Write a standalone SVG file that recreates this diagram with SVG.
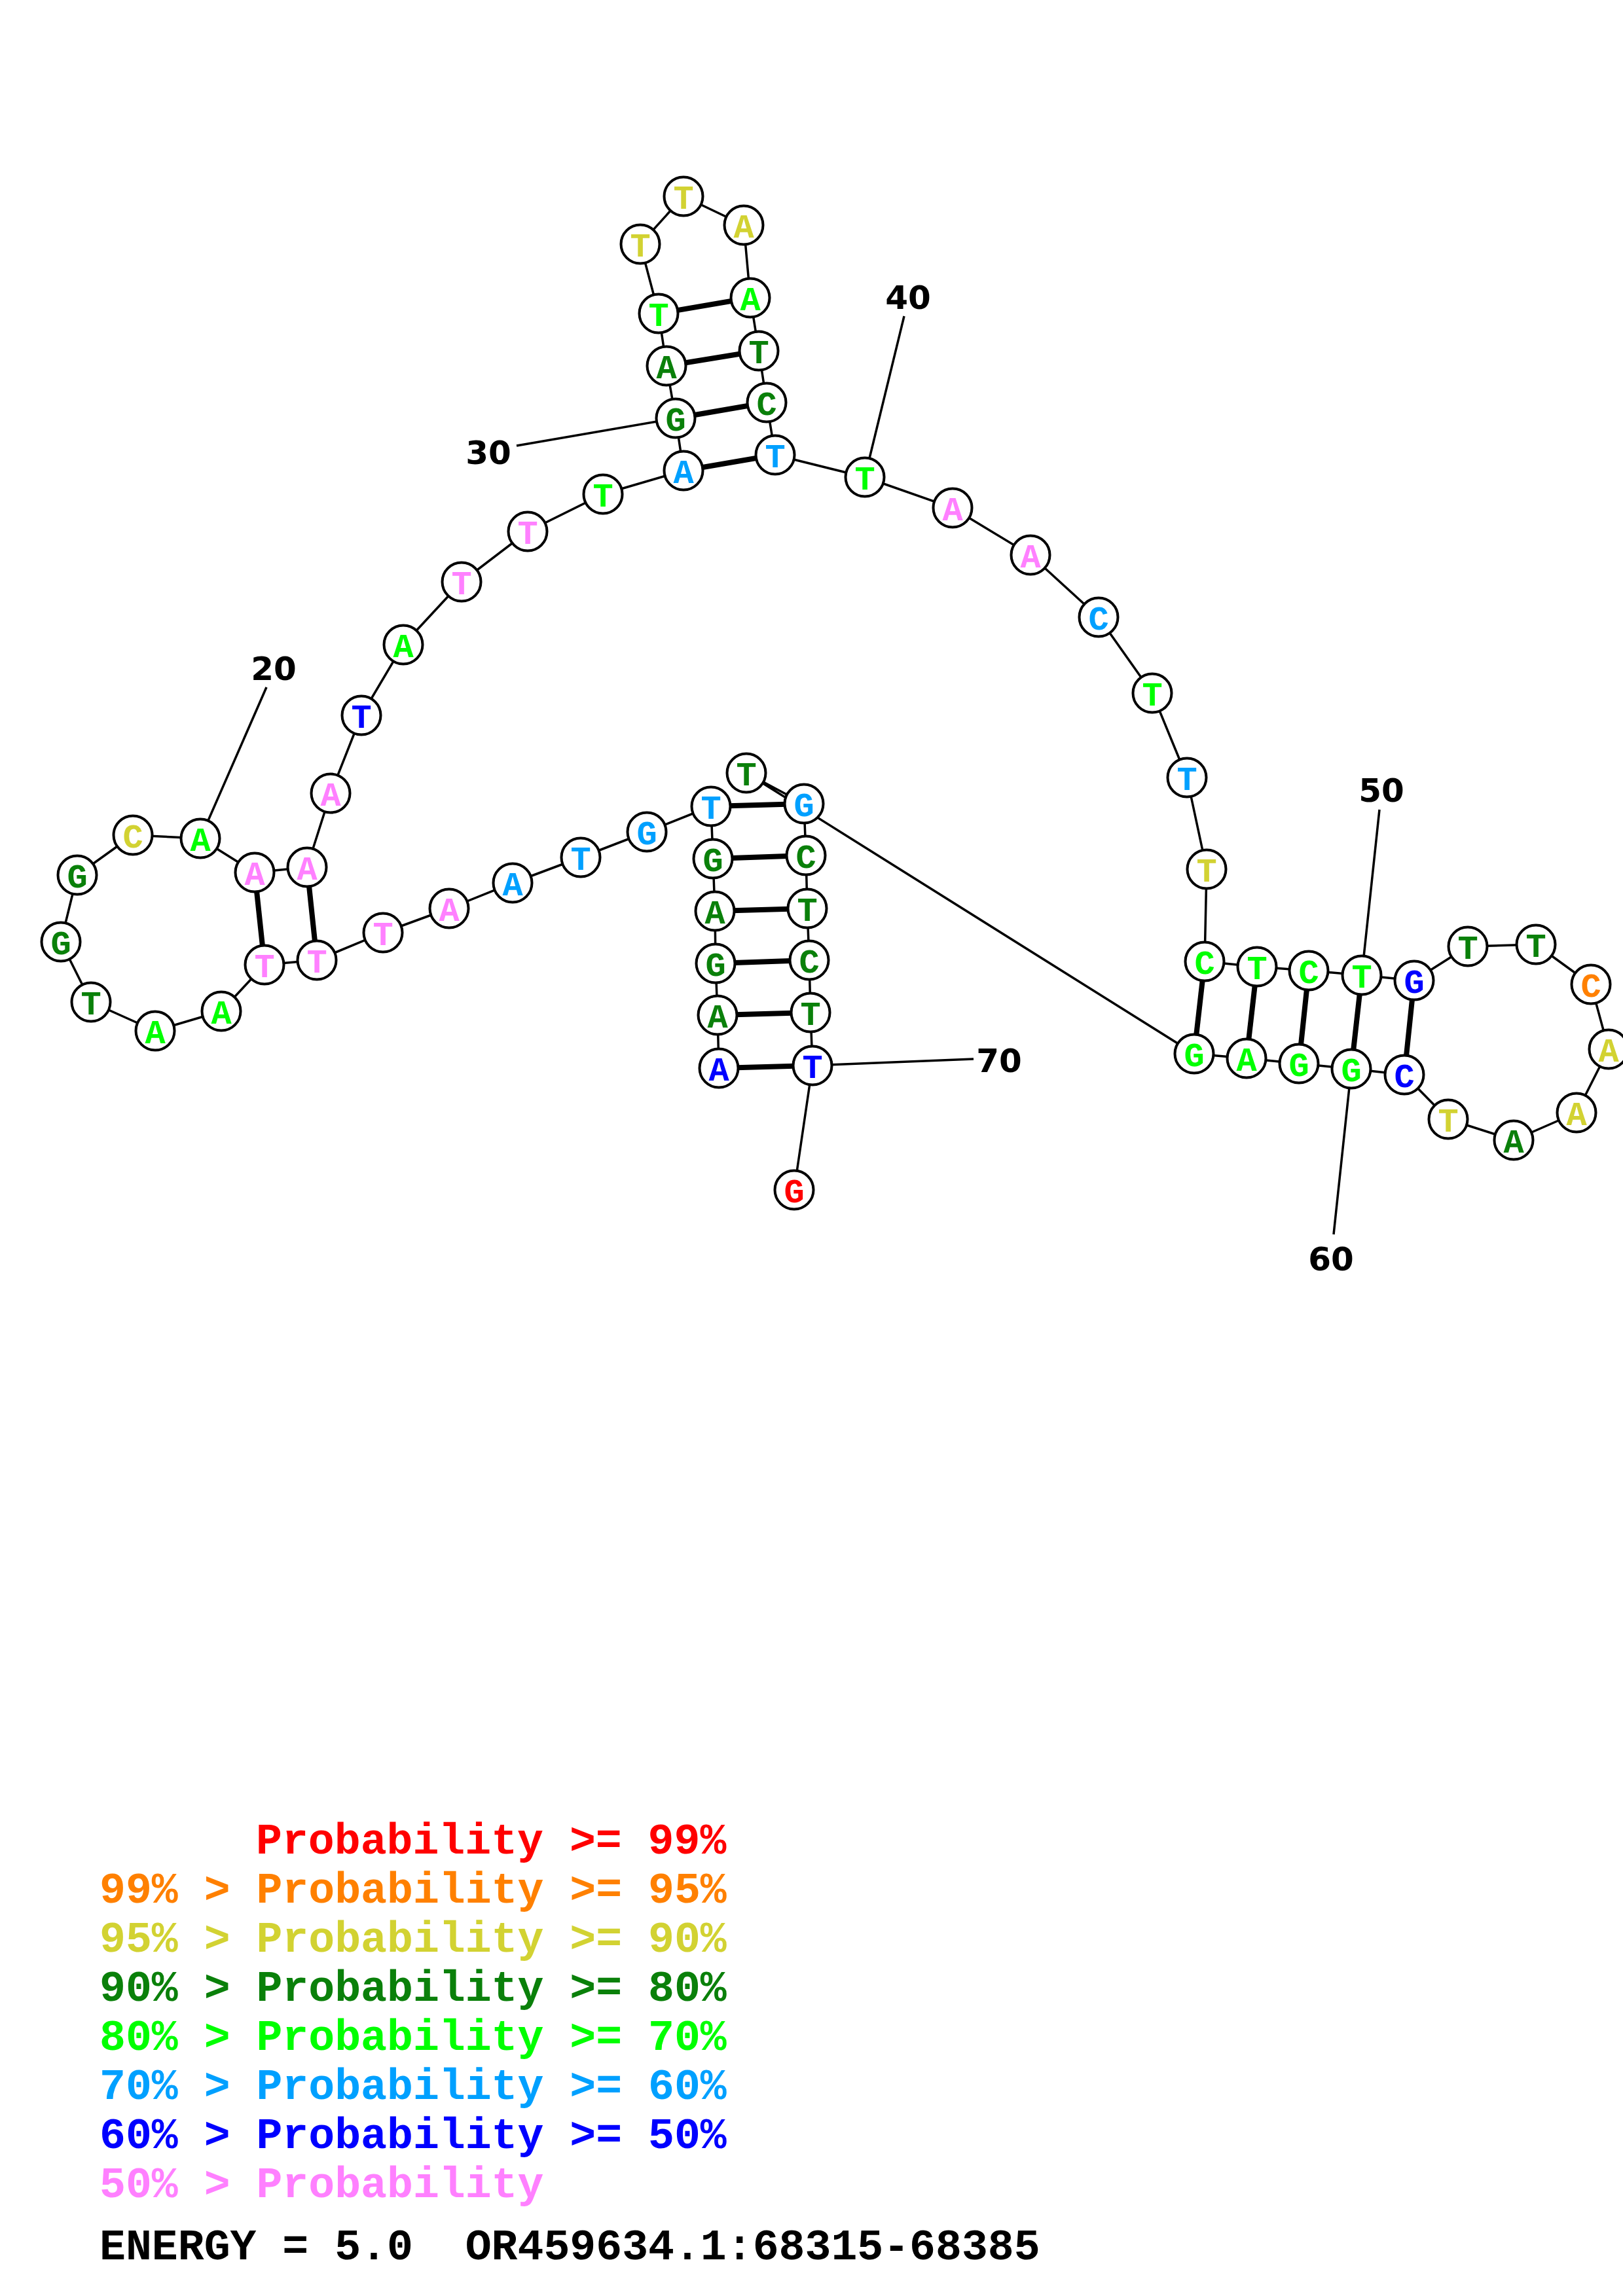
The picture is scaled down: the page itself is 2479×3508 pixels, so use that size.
<svg xmlns="http://www.w3.org/2000/svg" width="2479" height="3508" viewBox="0 0 2479 3508">
<style>
.bg{fill:#ffffff}
.bb{fill:none;stroke:#000;stroke-width:3.5;stroke-linejoin:round}
.pr{stroke:#000;stroke-width:8}
.ln{stroke:#000;stroke-width:3.5}
.nd circle{fill:#fff;stroke:#000;stroke-width:4}
.nd text{font-family:"Liberation Mono","DejaVu Sans Mono",monospace;font-weight:bold;font-size:52px;text-anchor:middle}
.num{font-family:"DejaVu Sans","Liberation Sans",sans-serif;font-weight:bold;font-size:50px;text-anchor:middle;fill:#000}
.lg{font-family:"Liberation Mono","DejaVu Sans Mono",monospace;font-weight:bold;font-size:66.5px}
.r{fill:#ff0000}.o{fill:#ff8000}.y{fill:#d2d232}.d{fill:#0a800a}.g{fill:#00ff00}.b{fill:#00a0ff}.u{fill:#0000ff}.p{fill:#ff80ff}.k{fill:#000}
</style>
<rect class="bg" x="0" y="0" width="2479" height="3508"/>
<g id="connectors">
<polyline class="bb" points="1098,1632 1096,1551 1093,1472 1092,1392 1089,1312 1086,1232 988,1271 887,1310 783,1349 686,1388 585,1425 484,1467 404,1474 338,1545 237,1575 139,1531 93,1439 118,1337 203,1276 306,1281 389,1333 469,1325 505,1212 552,1093 616,985 705,889 806,812 921,755 1044,719 1032,639 1018,559 1006,479 978,373 1044,300 1136,344 1146,455 1159,536 1171,615 1184,695 1321,729 1455,776 1574,848 1678,943 1760,1059 1813,1188 1843,1328 1840,1469 1920,1477 1999,1483 2080,1490 2160,1498 2242,1446 2346,1443 2430,1504 2457,1603 2408,1700 2312,1742 2212,1710 2145,1642 2064,1633 1984,1625 1904,1617 1824,1610 1140,1181 1228,1228 1231,1307 1233,1388 1236,1467 1238,1547 1241,1628 1213,1818"/>
<line class="pr" x1="1098" y1="1632" x2="1241" y2="1628"/>
<line class="pr" x1="1096" y1="1551" x2="1238" y2="1547"/>
<line class="pr" x1="1093" y1="1472" x2="1236" y2="1467"/>
<line class="pr" x1="1092" y1="1392" x2="1233" y2="1388"/>
<line class="pr" x1="1089" y1="1312" x2="1231" y2="1307"/>
<line class="pr" x1="1086" y1="1232" x2="1228" y2="1228"/>
<line class="pr" x1="484" y1="1467" x2="469" y2="1325"/>
<line class="pr" x1="404" y1="1474" x2="389" y2="1333"/>
<line class="pr" x1="1044" y1="719" x2="1184" y2="695"/>
<line class="pr" x1="1032" y1="639" x2="1171" y2="615"/>
<line class="pr" x1="1018" y1="559" x2="1159" y2="536"/>
<line class="pr" x1="1006" y1="479" x2="1146" y2="455"/>
<line class="pr" x1="1840" y1="1469" x2="1824" y2="1610"/>
<line class="pr" x1="1920" y1="1477" x2="1904" y2="1617"/>
<line class="pr" x1="1999" y1="1483" x2="1984" y2="1625"/>
<line class="pr" x1="2080" y1="1490" x2="2064" y2="1633"/>
<line class="pr" x1="2160" y1="1498" x2="2145" y2="1642"/>
<line class="ln" x1="407" y1="1050" x2="306" y2="1281"/>
<line class="ln" x1="789" y1="681" x2="1032" y2="639"/>
<line class="ln" x1="1381" y1="483" x2="1321" y2="729"/>
<line class="ln" x1="2107" y1="1237" x2="2080" y2="1490"/>
<line class="ln" x1="2037" y1="1886" x2="2064" y2="1633"/>
<line class="ln" x1="1487" y1="1618" x2="1241" y2="1628"/>
</g>
<g id="labels">
<text class="num" x="418" y="1039">20</text>
<text class="num" x="746" y="709">30</text>
<text class="num" x="1387" y="472">40</text>
<text class="num" x="2110" y="1225">50</text>
<text class="num" x="2033" y="1941">60</text>
<text class="num" x="1526" y="1638">70</text>
</g>
<g id="n1" class="nd"><circle cx="1098" cy="1632" r="29.5"/><text class="u" x="1098" y="1651">A</text></g>
<g id="n2" class="nd"><circle cx="1096" cy="1551" r="29.5"/><text class="d" x="1096" y="1570">A</text></g>
<g id="n3" class="nd"><circle cx="1093" cy="1472" r="29.5"/><text class="d" x="1093" y="1491">G</text></g>
<g id="n4" class="nd"><circle cx="1092" cy="1392" r="29.5"/><text class="d" x="1092" y="1411">A</text></g>
<g id="n5" class="nd"><circle cx="1089" cy="1312" r="29.5"/><text class="d" x="1089" y="1331">G</text></g>
<g id="n6" class="nd"><circle cx="1086" cy="1232" r="29.5"/><text class="b" x="1086" y="1251">T</text></g>
<g id="n7" class="nd"><circle cx="988" cy="1271" r="29.5"/><text class="b" x="988" y="1290">G</text></g>
<g id="n8" class="nd"><circle cx="887" cy="1310" r="29.5"/><text class="b" x="887" y="1329">T</text></g>
<g id="n9" class="nd"><circle cx="783" cy="1349" r="29.5"/><text class="b" x="783" y="1368">A</text></g>
<g id="n10" class="nd"><circle cx="686" cy="1388" r="29.5"/><text class="p" x="686" y="1407">A</text></g>
<g id="n11" class="nd"><circle cx="585" cy="1425" r="29.5"/><text class="p" x="585" y="1444">T</text></g>
<g id="n12" class="nd"><circle cx="484" cy="1467" r="29.5"/><text class="p" x="484" y="1486">T</text></g>
<g id="n13" class="nd"><circle cx="404" cy="1474" r="29.5"/><text class="p" x="404" y="1493">T</text></g>
<g id="n14" class="nd"><circle cx="338" cy="1545" r="29.5"/><text class="g" x="338" y="1564">A</text></g>
<g id="n15" class="nd"><circle cx="237" cy="1575" r="29.5"/><text class="g" x="237" y="1594">A</text></g>
<g id="n16" class="nd"><circle cx="139" cy="1531" r="29.5"/><text class="d" x="139" y="1550">T</text></g>
<g id="n17" class="nd"><circle cx="93" cy="1439" r="29.5"/><text class="d" x="93" y="1458">G</text></g>
<g id="n18" class="nd"><circle cx="118" cy="1337" r="29.5"/><text class="d" x="118" y="1356">G</text></g>
<g id="n19" class="nd"><circle cx="203" cy="1276" r="29.5"/><text class="y" x="203" y="1295">C</text></g>
<g id="n20" class="nd"><circle cx="306" cy="1281" r="29.5"/><text class="g" x="306" y="1300">A</text></g>
<g id="n21" class="nd"><circle cx="389" cy="1333" r="29.5"/><text class="p" x="389" y="1352">A</text></g>
<g id="n22" class="nd"><circle cx="469" cy="1325" r="29.5"/><text class="p" x="469" y="1344">A</text></g>
<g id="n23" class="nd"><circle cx="505" cy="1212" r="29.5"/><text class="p" x="505" y="1231">A</text></g>
<g id="n24" class="nd"><circle cx="552" cy="1093" r="29.5"/><text class="u" x="552" y="1112">T</text></g>
<g id="n25" class="nd"><circle cx="616" cy="985" r="29.5"/><text class="g" x="616" y="1004">A</text></g>
<g id="n26" class="nd"><circle cx="705" cy="889" r="29.5"/><text class="p" x="705" y="908">T</text></g>
<g id="n27" class="nd"><circle cx="806" cy="812" r="29.5"/><text class="p" x="806" y="831">T</text></g>
<g id="n28" class="nd"><circle cx="921" cy="755" r="29.5"/><text class="g" x="921" y="774">T</text></g>
<g id="n29" class="nd"><circle cx="1044" cy="719" r="29.5"/><text class="b" x="1044" y="738">A</text></g>
<g id="n30" class="nd"><circle cx="1032" cy="639" r="29.5"/><text class="d" x="1032" y="658">G</text></g>
<g id="n31" class="nd"><circle cx="1018" cy="559" r="29.5"/><text class="d" x="1018" y="578">A</text></g>
<g id="n32" class="nd"><circle cx="1006" cy="479" r="29.5"/><text class="g" x="1006" y="498">T</text></g>
<g id="n33" class="nd"><circle cx="978" cy="373" r="29.5"/><text class="y" x="978" y="392">T</text></g>
<g id="n34" class="nd"><circle cx="1044" cy="300" r="29.5"/><text class="y" x="1044" y="319">T</text></g>
<g id="n35" class="nd"><circle cx="1136" cy="344" r="29.5"/><text class="y" x="1136" y="363">A</text></g>
<g id="n36" class="nd"><circle cx="1146" cy="455" r="29.5"/><text class="g" x="1146" y="474">A</text></g>
<g id="n37" class="nd"><circle cx="1159" cy="536" r="29.5"/><text class="d" x="1159" y="555">T</text></g>
<g id="n38" class="nd"><circle cx="1171" cy="615" r="29.5"/><text class="d" x="1171" y="634">C</text></g>
<g id="n39" class="nd"><circle cx="1184" cy="695" r="29.5"/><text class="b" x="1184" y="714">T</text></g>
<g id="n40" class="nd"><circle cx="1321" cy="729" r="29.5"/><text class="g" x="1321" y="748">T</text></g>
<g id="n41" class="nd"><circle cx="1455" cy="776" r="29.5"/><text class="p" x="1455" y="795">A</text></g>
<g id="n42" class="nd"><circle cx="1574" cy="848" r="29.5"/><text class="p" x="1574" y="867">A</text></g>
<g id="n43" class="nd"><circle cx="1678" cy="943" r="29.5"/><text class="b" x="1678" y="962">C</text></g>
<g id="n44" class="nd"><circle cx="1760" cy="1059" r="29.5"/><text class="g" x="1760" y="1078">T</text></g>
<g id="n45" class="nd"><circle cx="1813" cy="1188" r="29.5"/><text class="b" x="1813" y="1207">T</text></g>
<g id="n46" class="nd"><circle cx="1843" cy="1328" r="29.5"/><text class="y" x="1843" y="1347">T</text></g>
<g id="n47" class="nd"><circle cx="1840" cy="1469" r="29.5"/><text class="g" x="1840" y="1488">C</text></g>
<g id="n48" class="nd"><circle cx="1920" cy="1477" r="29.5"/><text class="g" x="1920" y="1496">T</text></g>
<g id="n49" class="nd"><circle cx="1999" cy="1483" r="29.5"/><text class="g" x="1999" y="1502">C</text></g>
<g id="n50" class="nd"><circle cx="2080" cy="1490" r="29.5"/><text class="g" x="2080" y="1509">T</text></g>
<g id="n51" class="nd"><circle cx="2160" cy="1498" r="29.5"/><text class="u" x="2160" y="1517">G</text></g>
<g id="n52" class="nd"><circle cx="2242" cy="1446" r="29.5"/><text class="d" x="2242" y="1465">T</text></g>
<g id="n53" class="nd"><circle cx="2346" cy="1443" r="29.5"/><text class="d" x="2346" y="1462">T</text></g>
<g id="n54" class="nd"><circle cx="2430" cy="1504" r="29.5"/><text class="o" x="2430" y="1523">C</text></g>
<g id="n55" class="nd"><circle cx="2457" cy="1603" r="29.5"/><text class="y" x="2457" y="1622">A</text></g>
<g id="n56" class="nd"><circle cx="2408" cy="1700" r="29.5"/><text class="y" x="2408" y="1719">A</text></g>
<g id="n57" class="nd"><circle cx="2312" cy="1742" r="29.5"/><text class="d" x="2312" y="1761">A</text></g>
<g id="n58" class="nd"><circle cx="2212" cy="1710" r="29.5"/><text class="y" x="2212" y="1729">T</text></g>
<g id="n59" class="nd"><circle cx="2145" cy="1642" r="29.5"/><text class="u" x="2145" y="1661">C</text></g>
<g id="n60" class="nd"><circle cx="2064" cy="1633" r="29.5"/><text class="g" x="2064" y="1652">G</text></g>
<g id="n61" class="nd"><circle cx="1984" cy="1625" r="29.5"/><text class="g" x="1984" y="1644">G</text></g>
<g id="n62" class="nd"><circle cx="1904" cy="1617" r="29.5"/><text class="g" x="1904" y="1636">A</text></g>
<g id="n63" class="nd"><circle cx="1824" cy="1610" r="29.5"/><text class="g" x="1824" y="1629">G</text></g>
<g id="n64" class="nd"><circle cx="1140" cy="1181" r="29.5"/><text class="d" x="1140" y="1200">T</text></g>
<g id="n65" class="nd"><circle cx="1228" cy="1228" r="29.5"/><text class="b" x="1228" y="1247">G</text></g>
<g id="n66" class="nd"><circle cx="1231" cy="1307" r="29.5"/><text class="d" x="1231" y="1326">C</text></g>
<g id="n67" class="nd"><circle cx="1233" cy="1388" r="29.5"/><text class="d" x="1233" y="1407">T</text></g>
<g id="n68" class="nd"><circle cx="1236" cy="1467" r="29.5"/><text class="d" x="1236" y="1486">C</text></g>
<g id="n69" class="nd"><circle cx="1238" cy="1547" r="29.5"/><text class="d" x="1238" y="1566">T</text></g>
<g id="n70" class="nd"><circle cx="1241" cy="1628" r="29.5"/><text class="u" x="1241" y="1647">T</text></g>
<g id="n71" class="nd"><circle cx="1213" cy="1818" r="29.5"/><text class="r" x="1213" y="1837">G</text></g>
<g id="legend" class="lg">
<text class="r" x="391" y="2832">Probability &gt;= 99%</text>
<text class="o" x="152" y="2907">99% &gt; Probability &gt;= 95%</text>
<text class="y" x="152" y="2982">95% &gt; Probability &gt;= 90%</text>
<text class="d" x="152" y="3057">90% &gt; Probability &gt;= 80%</text>
<text class="g" x="152" y="3132">80% &gt; Probability &gt;= 70%</text>
<text class="b" x="152" y="3207">70% &gt; Probability &gt;= 60%</text>
<text class="u" x="152" y="3282">60% &gt; Probability &gt;= 50%</text>
<text class="p" x="152" y="3357">50% &gt; Probability</text>
<text class="k" x="152" y="3452" xml:space="preserve">ENERGY = 5.0  OR459634.1:68315-68385</text>
</g>
</svg>
